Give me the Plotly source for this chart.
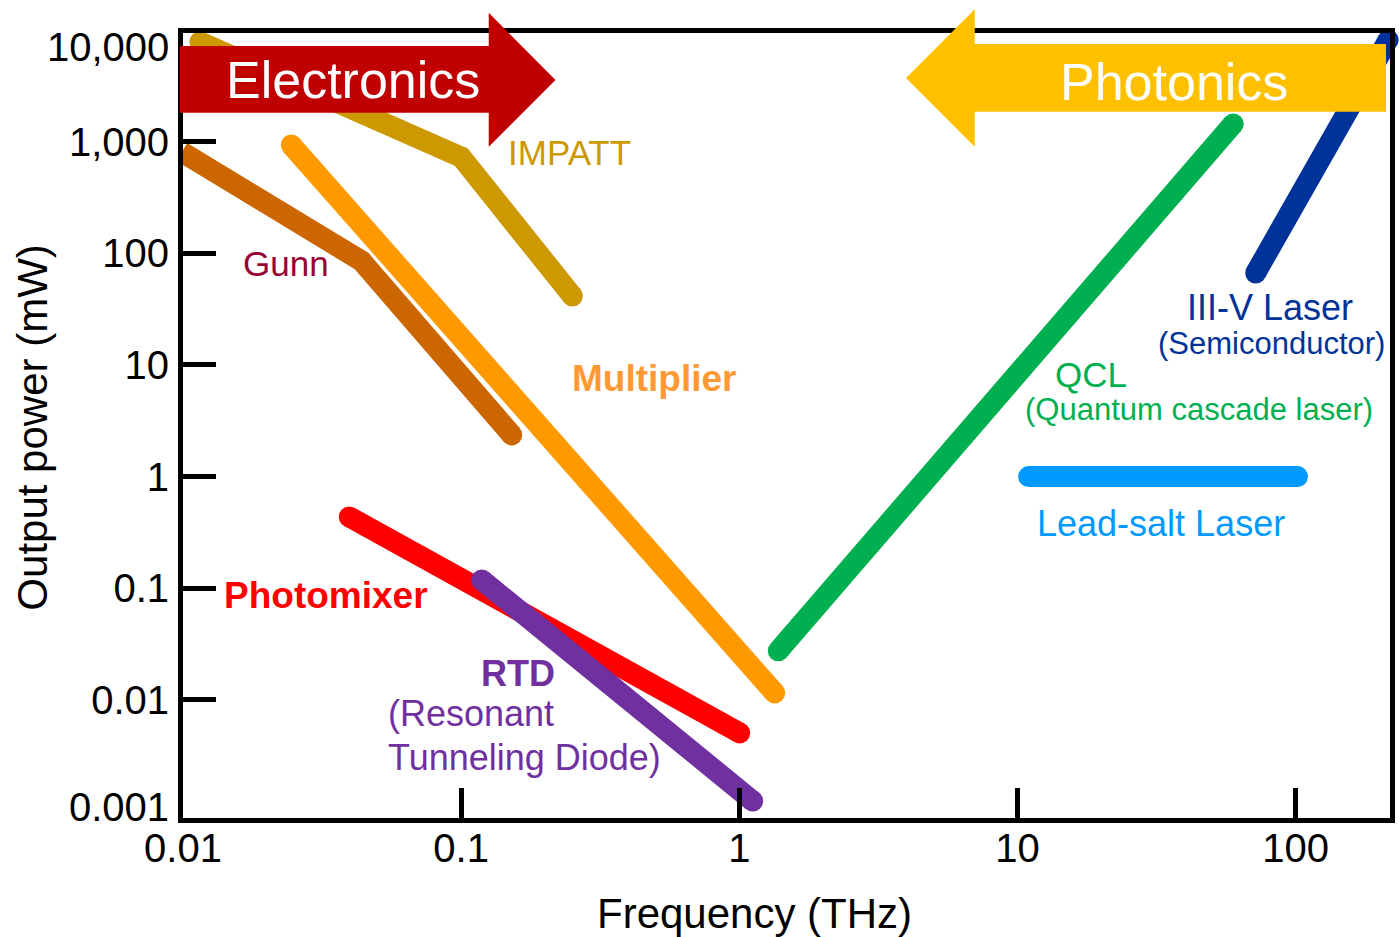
import plotly.graph_objects as go

# ---------------- data (frequency in THz, power in mW) ----------------
impatt_f = [0.0115, 0.1, 0.251]
impatt_p = [7850, 730, 41.5]

gunn_f = [0.0099, 0.0438, 0.152]
gunn_p = [811, 85.5, 2.36]

mult_f = [0.0245, 1.34]
mult_p = [937, 0.0115]

photomixer_f = [0.0396, 1.003]
photomixer_p = [0.435, 0.00504]

rtd_f = [0.1186, 1.117]
rtd_p = [0.1183, 0.001236]

qcl_f = [1.38, 59.6]
qcl_p = [0.0274, 1445]

iiiv_f = [71.8, 215]
iiiv_p = [66.7, 8180]

leadsalt_f = [10.96, 101.5]
leadsalt_p = [1.0, 1.0]

y_tickvals = [0.01, 0.1, 1, 10, 100, 1000]
y_ticktext = ["0.01", "0.1", "1", "10", "100", "1,000"]
x_tickvals = [0.01, 0.1, 1, 10, 100]
x_ticktext = ["0.01", "0.1", "1", "10", "100"]

# ---------------- layout geometry ----------------
W, H = 1399, 937
L, R, T, B = 183, 1395, 33, 818
FONT = "Liberation Sans, Arial, Helvetica, sans-serif"


def px(x):
    return (x - L) / (R - L)


def py(y):
    return (B - y) / (B - T)


series = [
    (impatt_f, impatt_p, "#CC9900"),
    (gunn_f, gunn_p, "#CC6600"),
    (mult_f, mult_p, "#FF9900"),
    (photomixer_f, photomixer_p, "#FF0000"),
    (rtd_f, rtd_p, "#7030A0"),
    (qcl_f, qcl_p, "#00B050"),
    (iiiv_f, iiiv_p, "#003399"),
    (leadsalt_f, leadsalt_p, "#0099FF"),
]

LW = 21
fig = go.Figure()
for xs, ys, c in series:
    fig.add_trace(go.Scatter(
        x=xs, y=ys, mode="lines+markers",
        line=dict(color=c, width=LW),
        marker=dict(color=c, size=LW, line=dict(width=0)),
        cliponaxis=False, hoverinfo="skip", showlegend=False,
    ))


def path(points):
    s = "M " + " L ".join(f"{px(a):.5f},{py(b):.5f}" for a, b in points) + " Z"
    return s


electronics_arrow = [(180, 46), (490, 46), (490, 12.7), (557, 80), (490, 146.7), (490, 112.7), (180, 112.7)]
photonics_arrow = [(909, 78), (978, 9.3), (978, 44), (1391, 44), (1391, 111.7), (978, 111.7), (978, 146.7)]

shapes = [
    dict(type="path", xref="paper", yref="paper", path=path(electronics_arrow),
         fillcolor="#C00000", line=dict(width=0), layer="above"),
    dict(type="path", xref="paper", yref="paper", path=path(photonics_arrow),
         fillcolor="#FFC000", line=dict(width=0), layer="above"),
]


def ann(text, x, y, size, color, xanchor="center", bold=False, angle=0):
    if bold:
        text = f"<b>{text}</b>"
    return dict(text=text, x=px(x), y=py(y), xref="paper", yref="paper",
                xanchor=xanchor, yanchor="middle", showarrow=False,
                textangle=angle, borderpad=0,
                font=dict(family=FONT, size=size, color=color))


annotations = [
    ann("Electronics", 353.5, 80, 52, "white"),
    ann("Photonics", 1178, 82, 52, "white"),
    ann("IMPATT", 571, 153, 35, "#CC9900"),
    ann("Gunn", 286, 263, 35, "#990033"),
    ann("Multiplier", 655.5, 378, 37, "#FF9933", bold=True),
    ann("Photomixer", 327, 595, 37, "#FF0000", bold=True),
    ann("RTD", 558, 673, 36, "#7030A0", xanchor="right", bold=True),
    ann("(Resonant", 388, 713, 36, "#7030A0", xanchor="left"),
    ann("Tunneling Diode)", 388, 757, 36, "#7030A0", xanchor="left"),
    ann("QCL", 1095, 374, 35, "#00B050"),
    ann("(Quantum cascade laser)", 1203, 409, 31, "#00B050"),
    ann("III-V Laser", 1275, 307, 36, "#003399"),
    ann("(Semiconductor)", 1276, 343, 31, "#003399"),
    ann("Lead-salt Laser", 1165.5, 523, 36, "#0099FF"),
    ann("10,000", 170, 47, 40, "black", xanchor="right"),
    ann("0.001", 170, 807, 40, "black", xanchor="right"),
    ann("Frequency (THz)", 757, 913, 42, "black"),
    ann("Output power (mW)", 31, 428, 42, "black", angle=-90),
]

fig.update_layout(
    width=W, height=H,
    margin=dict(l=L, r=W - R, t=T, b=H - B, pad=0),
    paper_bgcolor="white", plot_bgcolor="white",
    shapes=shapes, annotations=annotations,
    font=dict(family=FONT, color="black"),
)

fig.update_xaxes(
    type="log", range=[-2, 2.339],
    tickvals=x_tickvals, ticktext=x_ticktext,
    ticks="inside", ticklen=30, tickwidth=5, tickcolor="black",
    showline=True, linewidth=5, linecolor="black", mirror=True,
    showgrid=False, zeroline=False,
    tickfont=dict(family=FONT, size=40, color="black"),
    ticklabelstandoff=-9,
)
fig.update_yaxes(
    type="log", range=[-3.06, 3.975],
    tickvals=y_tickvals, ticktext=y_ticktext,
    ticks="inside", ticklen=33, tickwidth=5, tickcolor="black",
    showline=True, linewidth=5, linecolor="black", mirror=True,
    showgrid=False, zeroline=False,
    tickfont=dict(family=FONT, size=40, color="black"),
    ticklabelstandoff=1,
)

fig.write_html("out.html")
